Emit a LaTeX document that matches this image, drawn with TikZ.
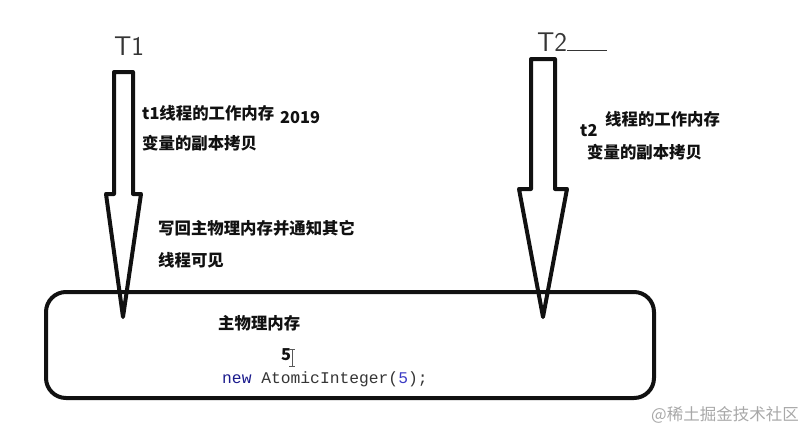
\documentclass[tikz,border=0pt]{standalone}
\usepackage{fontspec}
\setmainfont{Liberation Sans}
\setmonofont{Liberation Mono}
\newfontfamily\cjk{Noto Sans CJK SC}
\usetikzlibrary{positioning,calc}
\definecolor{ink}{HTML}{111111}
\definecolor{codekw}{HTML}{1A1A8C}
\definecolor{codenum}{HTML}{3B3BC4}
\definecolor{markgray}{HTML}{A8A8A8}

\begin{document}
\begin{tikzpicture}[x=1pt, y=-1pt,
  lbl/.style={font=\cjk\bfseries\fontsize{16.4}{20}\selectfont, ink, anchor=west, inner sep=0pt},
  hand/.style={font=\sffamily\fontsize{27}{27}\selectfont, ink!85, inner sep=0pt},
  blockarrow/.style={line width=4pt, line join=round, ink}]
  \useasboundingbox (0,0) rectangle (811,432);
  % thread T1 arrow
  \draw[blockarrow] (114,72) -- (133,72) -- (133,194) -- (141,194) -- (123,317)
    -- (106,194) -- (114,194) -- cycle;
  % thread T2 arrow
  \draw[blockarrow] (531,59) -- (555,59) -- (555,189) -- (567,189) -- (543,317)
    -- (519,189) -- (531,189) -- cycle;
  % main memory
  \node[draw=ink, line width=4pt, rounded corners=20pt, minimum width=608pt,
    minimum height=106pt, inner sep=0pt] (mem) at (350,345) {};
  \node[hand] (T1) at (129,46) {T1};
  \node[hand] (T2) at (552,42) {T2};
  \coordinate (T2end) at (607,50);
  \draw[ink!85, line width=0.8pt] (T2.east |- T2end) -- (T2end);
  \node[lbl] (t1work) at (142,113) {t1线程的工作内存};
  \node[lbl] (t1year) at (280,118) {2019};
  \node[lbl] (t1copy) at (142,143) {变量的副本拷贝};
  \node[lbl] (back1) at (158,228) {写回主物理内存并通知其它};
  \node[lbl] (back2) at (158,260) {线程可见};
  \node[lbl] (t2name) at (580,131) {t2};
  \node[lbl] (t2work) at (605,119) {线程的工作内存};
  \node[lbl] (t2copy) at (587,152) {变量的副本拷贝};
  \node[lbl] (memname) at (218,323) {主物理内存};
  \node[lbl] (val) at (281,355) {5};
  \draw[ink!70, line width=0.8pt] (292,349) -- (292,366) (289,349) -- (295,349) (289,366) -- (295,366);
  \node[font=\ttfamily\fontsize{16.3}{20}\selectfont, ink!85, anchor=west, inner sep=0pt] (code) at (222,379)
    {\textcolor{codekw}{new} AtomicInteger(\textcolor{codenum}{5});};
  \node[font=\cjk\fontsize{16.5}{20}\selectfont, markgray, anchor=west, inner sep=0pt] (mark) at (651,415) {@稀土掘金技术社区};
\end{tikzpicture}
\end{document}
